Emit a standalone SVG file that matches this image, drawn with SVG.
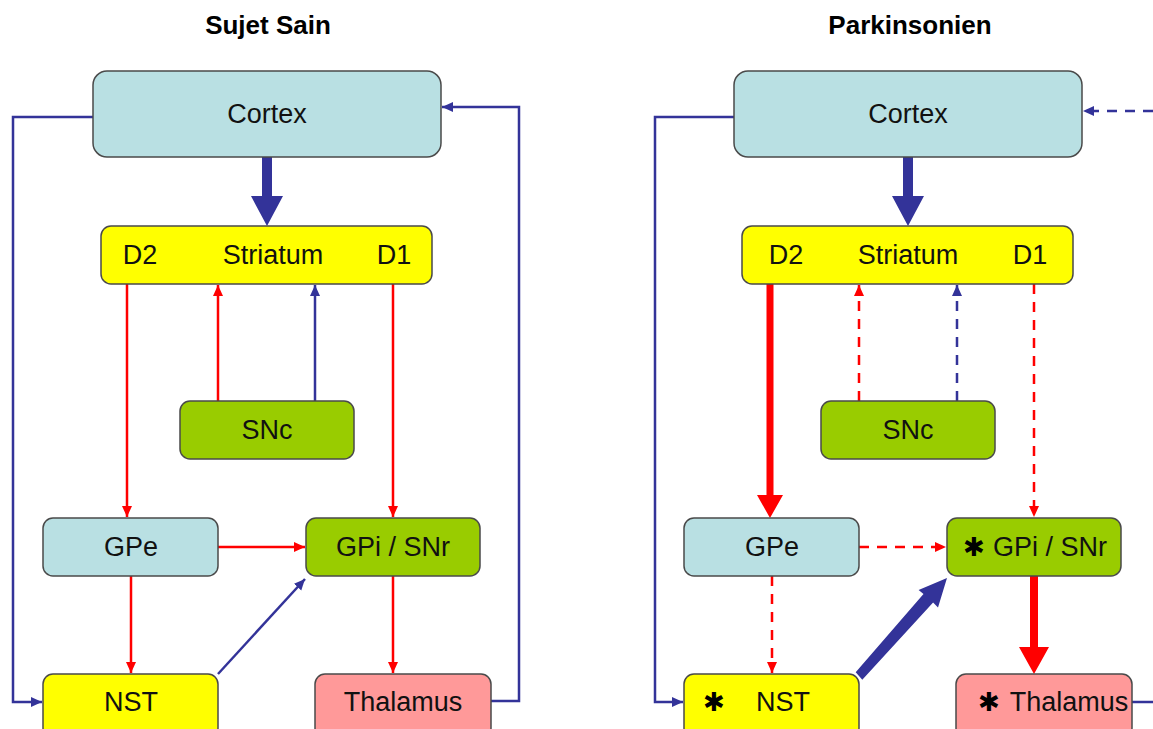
<svg xmlns="http://www.w3.org/2000/svg" width="1153" height="729" viewBox="0 0 1153 729">
<style>
.title{font-family:"Liberation Sans",Arial,sans-serif;font-weight:bold;font-size:26px;fill:#000;text-anchor:middle}
.lbl{font-family:"Liberation Sans",Arial,sans-serif;font-size:27px;fill:#111;text-anchor:middle;dominant-baseline:central}
.ast{font-family:"DejaVu Sans",sans-serif;font-weight:bold;font-size:26px;fill:#000;text-anchor:middle;dominant-baseline:central}
.box{stroke:#4a4a4a;stroke-width:1.5}
.blue{fill:#b9e0e3}.yel{fill:#ffff00}.grn{fill:#99cc00}.pink{fill:#ff9999}
.r{stroke:#ff0000;stroke-width:2.5;fill:none}
.b{stroke:#333399;stroke-width:2.5;fill:none}
.d{stroke-dasharray:10 8}
</style>
<defs>
<marker id="ar" markerUnits="userSpaceOnUse" markerWidth="12" markerHeight="12" viewBox="0 0 12 12" refX="11" refY="6" orient="auto"><path d="M0,1 L11,6 L0,11 Z" fill="#ff0000"/></marker>
<marker id="ab" markerUnits="userSpaceOnUse" markerWidth="12" markerHeight="12" viewBox="0 0 12 12" refX="11" refY="6" orient="auto"><path d="M0,1 L11,6 L0,11 Z" fill="#333399"/></marker>
</defs>
<rect width="1153" height="729" fill="#fff"/>
<text class="title" x="268" y="34">Sujet Sain</text>
<text class="title" x="910" y="34">Parkinsonien</text>

<g id="connectors">
<!-- left panel -->
<path class="b" d="M93,117 H13 V702 H42" marker-end="url(#ab)"/>
<path class="b" d="M491,701 H519 V107 H442" marker-end="url(#ab)"/>
<path d="M262,157 V196 H251 L267,226 L283,196 H272 V157 Z" fill="#333399"/>
<path class="r" d="M127,284 V517" marker-end="url(#ar)"/>
<path class="r" d="M218,401 V285" marker-end="url(#ar)"/>
<path class="b" d="M315,401 V285" marker-end="url(#ab)"/>
<path class="r" d="M393,284 V517" marker-end="url(#ar)"/>
<path class="r" d="M218,547 H305" marker-end="url(#ar)"/>
<path class="r" d="M131,576 V673" marker-end="url(#ar)"/>
<path class="r" d="M393,576 V673" marker-end="url(#ar)"/>
<path class="b" d="M218,674 L305,579" marker-end="url(#ab)"/>
<!-- right panel -->
<path class="b" d="M734,117 H655 V702 H683" marker-end="url(#ab)"/>
<path class="b d" d="M1153,111 H1083" marker-end="url(#ab)"/>
<path class="b" d="M1132,702 H1153"/>
<path d="M903,157 V196 H892 L908,226 L924,196 H913 V157 Z" fill="#333399"/>
<path d="M766.5,284 V495 H757 L770,518 L783,495 H773.5 V284 Z" fill="#ff0000"/>
<path class="r d" d="M859,401 V285" marker-end="url(#ar)"/>
<path class="b d" d="M957,401 V285" marker-end="url(#ab)"/>
<path class="r d" d="M1034,284 V517" marker-end="url(#ar)"/>
<path class="r d" d="M859,547 H946" marker-end="url(#ar)"/>
<path class="r d" d="M772,576 V673" marker-end="url(#ar)"/>
<path d="M1030,576 V647 H1019 L1034,674 L1049,647 H1038 V576 Z" fill="#ff0000"/>
<path d="M855.7,672.3 L862.3,679.7 L933.1,602.6 L938,607.5 L947,578 L918.6,590.1 L923.5,594.0 Z" fill="#333399"/>
</g>

<g id="cortex-l"><rect class="box blue" x="93" y="71" width="348" height="86" rx="14"/><text class="lbl" x="267" y="114">Cortex</text></g>
<g id="striatum-l"><rect class="box yel" x="101" y="226" width="331" height="58" rx="10"/><text class="lbl" x="140" y="255">D2</text><text class="lbl" x="273" y="255">Striatum</text><text class="lbl" x="394" y="255">D1</text></g>
<g id="snc-l"><rect class="box grn" x="180" y="401" width="174" height="58" rx="10"/><text class="lbl" x="267" y="430">SNc</text></g>
<g id="gpe-l"><rect class="box blue" x="43" y="518" width="175" height="58" rx="10"/><text class="lbl" x="131" y="547">GPe</text></g>
<g id="gpi-l"><rect class="box grn" x="306" y="518" width="174" height="58" rx="10"/><text class="lbl" x="393" y="547">GPi / SNr</text></g>
<g id="nst-l"><rect class="box yel" x="43" y="674" width="175" height="64" rx="10"/><text class="lbl" x="131" y="702">NST</text></g>
<g id="thal-l"><rect class="box pink" x="315" y="674" width="176" height="64" rx="10"/><text class="lbl" x="403" y="702">Thalamus</text></g>

<g id="cortex-r"><rect class="box blue" x="734" y="71" width="348" height="86" rx="14"/><text class="lbl" x="908" y="114">Cortex</text></g>
<g id="striatum-r"><rect class="box yel" x="742" y="226" width="331" height="58" rx="10"/><text class="lbl" x="786" y="255">D2</text><text class="lbl" x="908" y="255">Striatum</text><text class="lbl" x="1030" y="255">D1</text></g>
<g id="snc-r"><rect class="box grn" x="821" y="401" width="174" height="58" rx="10"/><text class="lbl" x="908" y="430">SNc</text></g>
<g id="gpe-r"><rect class="box blue" x="684" y="518" width="175" height="58" rx="10"/><text class="lbl" x="772" y="547">GPe</text></g>
<g id="gpi-r"><rect class="box grn" x="947" y="518" width="174" height="58" rx="10"/><text class="ast" x="974" y="547">✱</text><text class="lbl" x="1050" y="547">GPi / SNr</text></g>
<g id="nst-r"><rect class="box yel" x="684" y="674" width="175" height="64" rx="10"/><text class="ast" x="714" y="702">✱</text><text class="lbl" x="783" y="702">NST</text></g>
<g id="thal-r"><rect class="box pink" x="956" y="674" width="176" height="64" rx="10"/><text class="ast" x="989" y="702">✱</text><text class="lbl" x="1069" y="702">Thalamus</text></g>
</svg>
